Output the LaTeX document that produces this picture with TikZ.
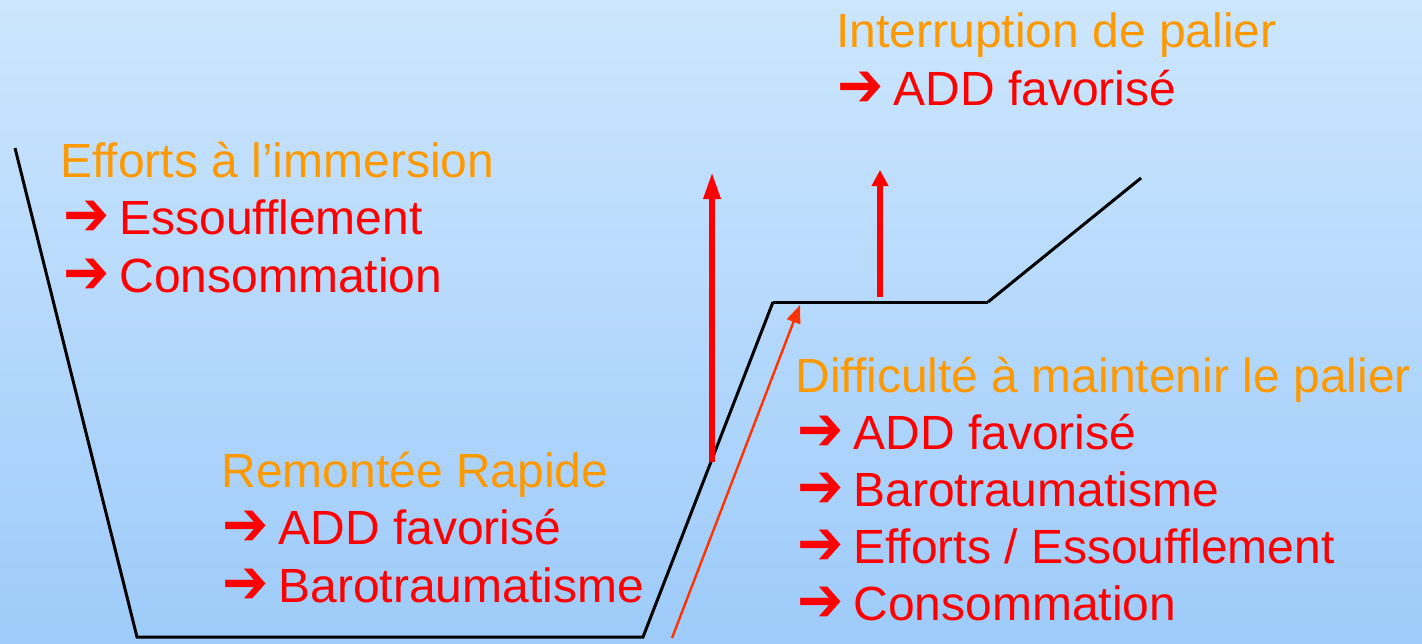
\documentclass[tikz,border=0pt]{standalone}
\usepackage{fontspec}
\setmainfont{Liberation Sans}
\newfontfamily\symfont{DejaVu Sans Bold}
\usetikzlibrary{arrows.meta}
\definecolor{fondhaut}{RGB}{204,230,254}
\definecolor{fondbas}{RGB}{158,203,250}
\definecolor{titre}{RGB}{255,153,0}
\definecolor{rouge}{RGB}{255,0,0}
\definecolor{rougeorange}{RGB}{255,51,0}
\newcommand\fleche{\makebox[28pt][l]{\raisebox{-0.5pt}{\scalebox{1.15}[1.3]{\symfont ➔}}}}
\tikzset{
  titrebloc/.style={anchor=base west,inner sep=0pt,text=titre,font=\fontsize{24}{28}\selectfont},
  itembloc/.style={anchor=base west,inner sep=0pt,text=rouge,font=\fontsize{24}{28}\selectfont},
  profil/.style={line width=1.5pt,black},
  montee/.style={line width=3pt,rouge},
}
\begin{document}
\begin{tikzpicture}[x=0.5pt,y=-0.5pt]
            % fond
            \shade[top color=fondhaut,bottom color=fondbas] (0,0) rectangle (1422,643);
            \useasboundingbox (0,0) rectangle (1422,643);
            % profil de plongee
            \coordinate (surf) at (15,148);
            \coordinate (fond1) at (137,637);
            \coordinate (fond2) at (643,637);
            \coordinate (pal1) at (773,302);
            \coordinate (pal2) at (988,302);
            \coordinate (sortie) at (1141,178);
            \draw[profil] (surf)--(fond1)--(fond2)--(pal1);
            \draw[profil] (pal1)--(pal2);
            \draw[profil] (pal2)--(sortie);
            % fleches
            \coordinate (r1) at (712,462);
            \coordinate (r1h) at (712,172);
            \coordinate (r2) at (880,297);
            \coordinate (r2h) at (880,170);
            \coordinate (m1) at (672,638);
            \coordinate (m1h) at (800,305);
            \draw[montee,-{Triangle[length=13.5pt,width=8pt]}] (r1)--(r1h);
            \draw[montee,-{Triangle[length=8pt,width=8pt]}] (r2)--(r2h);
            \draw[line width=1.2pt,rougeorange,-{Triangle[length=9pt,width=7pt]}] (m1)--(m1h);
            % titres
            \node[titrebloc] (inter) at (836,47) {Interruption de palier};
            \node[titrebloc] (immer) at (60,177) {Efforts à l’immersion};
            \node[titrebloc] (palier) at (795,392) {Difficulté à maintenir le palier};
            \node[titrebloc] (remont) at (221,487) {Remontée Rapide};
            % consequences
            \foreach \x/\y/\n/\t in {837/105/inter1/{ADD favorisé},
                                   63/234/immer1/{Essoufflement},
                                   63/292/immer2/{Consommation},
                                   797/449/palier1/{ADD favorisé},
                                   797/506/palier2/{Barotraumatisme},
                                   797/563/palier3/{Efforts / Essoufflement},
                                   797/620/palier4/{Consommation},
                                   222/544/remont1/{ADD favorisé},
                                   222/602/remont2/{Barotraumatisme}}{
                \node[itembloc] (\n) at (\x,\y) {\fleche\t};
            }
\end{tikzpicture}
\end{document}
